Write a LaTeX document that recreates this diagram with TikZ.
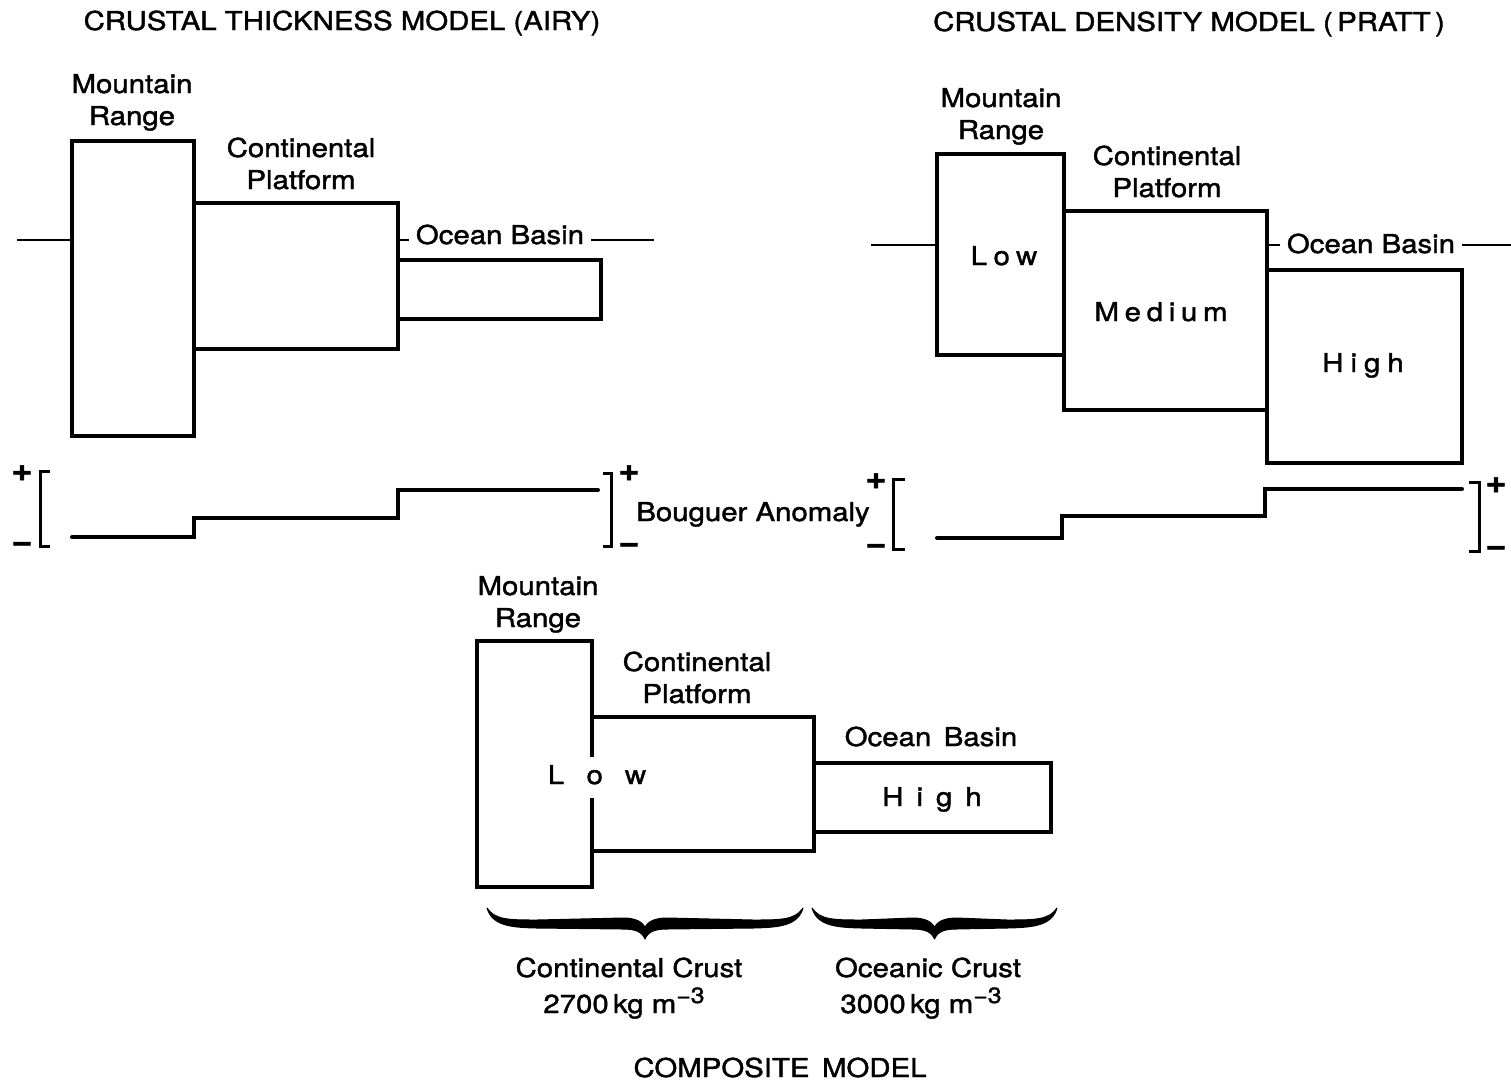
\documentclass[tikz,border=0pt]{standalone}
\usepackage{fontspec}
\setmainfont{TeX Gyre Heros}[FakeStretch=1.13, FakeBold=1.5]
\newcommand{\crustbrace}[3]{%
 \pgfmathsetmacro{\bxl}{#1}\pgfmathsetmacro{\bxr}{#2}\pgfmathsetmacro{\bxc}{(#1+#2)/2}\pgfmathsetmacro{\byt}{#3}%
 \fill[draw, line width=1pt, line join=round] (\bxl,\byt) .. controls ({\bxl+8},{\byt+12}) and ({\bxl+22},{\byt+12}) .. ({\bxl+50},{\byt+12})
 -- ({\bxc-22},{\byt+10}) .. controls ({\bxc-9},{\byt+10}) and ({\bxc-3},{\byt+14}) .. (\bxc,{\byt+19})
 .. controls ({\bxc+3},{\byt+14}) and ({\bxc+9},{\byt+10}) .. ({\bxc+22},{\byt+10})
 -- ({\bxr-50},{\byt+12}) .. controls ({\bxr-22},{\byt+12}) and ({\bxr-8},{\byt+12}) .. (\bxr,\byt)
 .. controls ({\bxr-5},{\byt+17}) and ({\bxr-22},{\byt+19.5}) .. ({\bxr-50},{\byt+20})
 -- ({\bxc+22},{\byt+21}) .. controls ({\bxc+9},{\byt+21}) and ({\bxc+3},{\byt+24}) .. (\bxc,{\byt+31})
 .. controls ({\bxc-3},{\byt+24}) and ({\bxc-9},{\byt+21}) .. ({\bxc-22},{\byt+21})
 -- ({\bxl+50},{\byt+20}) .. controls ({\bxl+22},{\byt+19.5}) and ({\bxl+5},{\byt+17}) .. (\bxl,\byt) -- cycle;}
\begin{document}
\begin{tikzpicture}[x=1pt,y=-1pt,
  box/.style={line width=3.6pt, line join=miter, line cap=rect},
  sea/.style={line width=2pt},
  anom/.style={line width=4pt, line join=miter, line cap=round},
  brk/.style={line width=3pt, line join=miter},
  lbl/.style={inner sep=0pt, font=\fontsize{26}{32}\selectfont, align=center, anchor=base},
  sgn/.style={inner sep=0pt, font=\fontsize{32}{32}\selectfont\bfseries, anchor=center},
]
\useasboundingbox (0,0) rectangle (1511,1084);
\fill[white] (0,0) rectangle (1511,1084);

% ---------------- AIRY ----------------
\node[lbl] (tA) at (342,30) {CRUSTAL THICKNESS MODEL (AIRY)};
\node[lbl] (mA) at (132,125) {Mountain\\Range};
\node[lbl] (cA) at (301,189) {Continental\\Platform};
\node[lbl] (oA) at (500,244) {Ocean Basin};
\draw[box] (72,141) rectangle (194,436);
\draw[box] (194,203) -- (398,203) -- (398,349) -- (194,349);
\draw[box] (398,260) -- (601,260) -- (601,319) -- (398,319);
\coordinate (sA1) at (17,240);
\coordinate (sA2) at (72,240);
\coordinate (sA3) at (398,240);
\coordinate (sA4) at (654,240);
\draw[sea] (sA1) -- (sA2);
\draw[sea] (sA3) -- ([xshift=-7pt]oA.west |- sA3);
\draw[sea] ([xshift=7pt]oA.east |- sA4) -- (sA4);
% anomaly
\draw[anom] (72,537) -- (194,537) -- (194,518) -- (398,518) -- (398,490) -- (598,490);
\draw[brk] (50,471) -- (40,471) -- (40,546) -- (50,546);
\draw[brk] (603,473) -- (611,473) -- (611,546) -- (603,546);
\node[sgn] (pA1) at (22,473) {+};
\node[sgn] (nA1) at (22,547) {−};
\node[sgn] (pA2) at (629,473) {+};
\node[sgn] (nA2) at (629,548) {−};
\node[lbl] (bou) at (753,521) {Bouguer Anomaly};

% ---------------- PRATT ----------------
\node[lbl] (tP) at (1189,31) {CRUSTAL DENSITY MODEL (\,PRATT\,)};
\node[lbl] (mP) at (1001,139) {Mountain\\Range};
\node[lbl] (cP) at (1167,197) {Continental\\Platform};
\node[lbl] (oP) at (1371,253) {Ocean Basin};
\draw[box] (937,154) rectangle (1064,355);
\draw[box] (1064,211) rectangle (1267,410);
\draw[box] (1267,270) rectangle (1462,463);
\node[lbl, font=\fontsize{26}{32}\selectfont\addfontfeature{LetterSpace=25}] (lowP) at (1004,265) {Low};
\node[lbl, font=\fontsize{26}{32}\selectfont\addfontfeature{LetterSpace=22}] (medP) at (1161,321) {Medium};
\node[lbl, font=\fontsize{26}{32}\selectfont\addfontfeature{LetterSpace=27}] (higP) at (1363,372) {High};
\coordinate (sP1) at (871,245);
\coordinate (sP2) at (937,245);
\coordinate (sP3) at (1267,245);
\coordinate (sP4) at (1511,245);
\draw[sea] (sP1) -- (sP2);
\draw[sea] (sP3) -- ([xshift=-7pt]oP.west |- sP3);
\draw[sea] ([xshift=7pt]oP.east |- sP4) -- (sP4);
% anomaly
\draw[anom] (937,538) -- (1062,538) -- (1062,516) -- (1265,516) -- (1265,489) -- (1462,489);
\draw[brk] (905,479) -- (893,479) -- (893,549) -- (905,549);
\draw[brk] (1469,482) -- (1479,482) -- (1479,551) -- (1469,551);
\node[sgn] (pP1) at (876,481) {+};
\node[sgn] (nP1) at (876,549) {−};
\node[sgn] (pP2) at (1496,485) {+};
\node[sgn] (nP2) at (1496,551) {−};

% ---------------- COMPOSITE ----------------
\node[lbl] (mC) at (538,627) {Mountain\\Range};
\node[lbl] (cC) at (697,703) {Continental\\Platform};
\node[lbl] (oC) at (931,746) {Ocean\, Basin};
\draw[box] (592,755) -- (592,641) -- (477,641) -- (477,887) -- (592,887) -- (592,800);
\draw[box] (592,717) -- (814,717) -- (814,851) -- (592,851);
\draw[box] (814,763) -- (1051,763) -- (1051,832) -- (814,832);
\node[lbl, font=\fontsize{26}{32}\selectfont\addfontfeature{LetterSpace=86}] (lowC) at (597,784) {Low};
\node[lbl, font=\fontsize{26}{32}\selectfont\addfontfeature{LetterSpace=50}] (higC) at (932,806) {High};
\crustbrace{487}{803}{908}
\crustbrace{812}{1057}{908}
\node[lbl] (ccr) at (629,977) {Continental Crust};
\node[lbl] (ccd) at (624,1013) {2700\,kg m\raisebox{10pt}{\fontsize{22}{22}\selectfont −3}};
\node[lbl] (ocr) at (928,977) {Oceanic Crust};
\node[lbl] (ocd) at (921,1013) {3000\,kg m\raisebox{10pt}{\fontsize{22}{22}\selectfont −3}};
\node[lbl] (tC) at (780,1077) {COMPOSITE\, MODEL};
\end{tikzpicture}
\end{document}
